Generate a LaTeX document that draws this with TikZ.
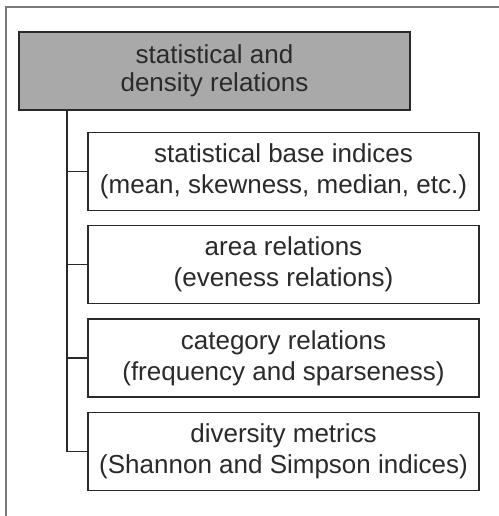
\documentclass[tikz,border=0pt]{standalone}
\usepackage{fontspec}
\setmainfont{Liberation Sans}
\definecolor{inkgray}{HTML}{2A2A2A}
\definecolor{headfill}{HTML}{A9A9A9}
\definecolor{framegray}{HTML}{7A7A7A}
\tikzset{
  headbox/.style={draw=inkgray, line width=1.8pt, fill=headfill, text=inkgray,
    minimum width=391pt, minimum height=78pt, align=center, inner sep=0pt,
    font=\fontsize{26}{28.5}\selectfont},
  itembox/.style={draw=inkgray, line width=1.8pt, fill=white, text=inkgray,
    minimum width=391pt, minimum height=78pt, align=center, inner sep=0pt,
    font=\fontsize{26}{31}\selectfont},
  link/.style={draw=inkgray, line width=1.8pt}
}
\begin{document}
\begin{tikzpicture}[x=1pt, y=-1pt]
  \useasboundingbox (0,0) rectangle (498,516);
  % outer frame, open towards right and bottom
  \draw[framegray, line width=1.5pt] (6,520) -- (6,7) -- (502,7);

  \node[headbox] (head) at (214.5,71) {statistical and\\density relations};

  \node[itembox] (b1) at (283.5,171.5) {statistical base indices\\(mean, skewness, median, etc.)};
  \node[itembox] (b2) at (283.5,264.5) {area relations\\(eveness relations)};
  \node[itembox] (b3) at (283.5,358) {category relations\\(frequency and sparseness)};
  \node[itembox] (b4) at (283.5,451.5) {diversity metrics\\(Shannon and Simpson indices)};

  % tree trunk and branches
  \coordinate (trunk) at ([xshift=-147.5pt]head.south);
  \draw[link] (trunk) |- (b4.west);
  \draw[link] (b1.west) -- (trunk |- b1.west);
  \draw[link] (b2.west) -- (trunk |- b2.west);
  \draw[link] (b3.west) -- (trunk |- b3.west);
\end{tikzpicture}
\end{document}
